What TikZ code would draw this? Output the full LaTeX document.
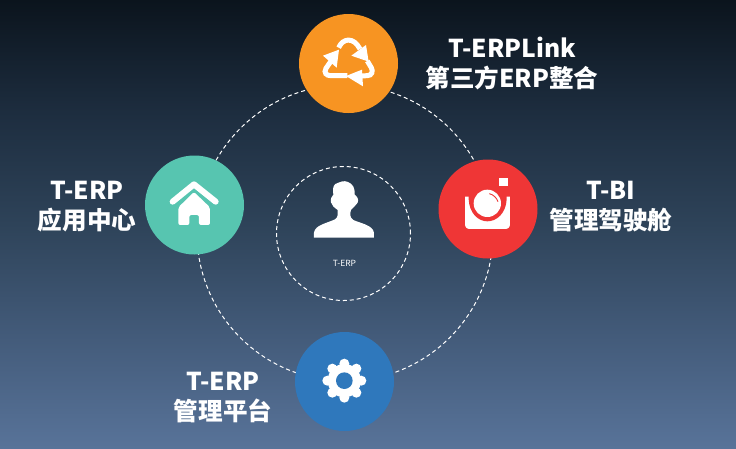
\documentclass[tikz,border=0pt]{standalone}
\usepackage{fontspec}
\setmainfont{Noto Sans CJK SC}
\definecolor{cOrange}{HTML}{F79422}
\definecolor{cRed}{HTML}{EF3636}
\definecolor{cGreen}{HTML}{57C5B0}
\definecolor{cBlue}{HTML}{2F78BC}
\definecolor{bgA}{HTML}{0B141D}
\definecolor{bgB}{HTML}{1D2D3F}
\definecolor{bgC}{HTML}{2E4359}
\definecolor{bgD}{HTML}{435B7A}
\definecolor{bgE}{HTML}{587399}
\pgfdeclareverticalshading{bgshade}{100bp}{color(0bp)=(bgE); color(25bp)=(bgE); color(37.5bp)=(bgD); color(50bp)=(bgC); color(62.5bp)=(bgB); color(75bp)=(bgA); color(100bp)=(bgA)}
\tikzset{
  x=1pt,y=-1pt,
  disc/.style={circle,minimum size=99pt,inner sep=0pt,fill=#1},
  ring/.style={circle,inner sep=0pt,draw=white,line width=1pt,dash pattern=on 4pt off 3pt},
  caption/.style={align=center,text=white,font=\fontsize{24.6}{30}\selectfont\bfseries,inner sep=0pt},
}
\begin{document}
\begin{tikzpicture}
\path[use as bounding box,shading=bgshade] (0,0) rectangle (736,448);
% dashed rings
\node[ring,minimum size=296pt] (outer) at (345,233) {};
\node[ring,minimum size=134pt] (inner) at (343.5,233.5) {};
% discs
\node[disc=cOrange] (link) at (348.5,63.5) {};
\node[disc=cRed] (bi) at (488,209) {};
\node[disc=cGreen] (app) at (194.5,205) {};
\node[disc=cBlue] (mgmt) at (344.5,381.5) {};
% recycle icon
\begin{scope}[shift={(290,5)},x=0.3333pt,y=-0.3333pt]
  \draw[white,line width=5pt,line join=round] (146,128) .. controls (158,100) and (190,94) .. (210,132);
  \fill[white] (228,120) -- (184,152) -- (236,170) -- cycle;
  \fill[white] (99,152) -- (147,134) -- (140,188) -- cycle;
  \draw[white,line width=5pt] (126,164) -- (108,190) .. controls (100,204) and (110,212) .. (122,212) -- (172,212);
  \fill[white] (168,213) -- (216,194) -- (219,244) -- cycle;
  \draw[white,line width=5pt] (212,213) -- (232,212) .. controls (246,212) and (250,198) .. (244,188) -- (232,168);
\end{scope}
% camera icon
\begin{scope}[shift={(430,150)},x=0.3333pt,y=-0.3333pt]
  \fill[white] (207,84) rectangle (234,107);
  \fill[white] (105,140) -- (105,222) .. controls (105,232) and (110,237) .. (120,237) -- (225,237) .. controls (235,237) and (240,232) .. (240,222) -- (240,140) -- cycle;
  \fill[cRed] (116,130) -- (116,148) .. controls (118,190) and (145,214) .. (172,214) .. controls (200,214) and (228,190) .. (230,148) -- (230,130) -- cycle;
  \fill[white] (172,160) circle[radius=41];
  \draw[cRed,line width=0.9pt] (178,131) .. controls (190,134) and (200,143) .. (204,155);
\end{scope}
% person icon
\begin{scope}[shift={(270,160)},x=0.3333pt,y=-0.3333pt]
  \fill[white] (132,233) -- (132,218) .. controls (135,195) and (170,190) .. (195,178)
    .. controls (204,172) and (205,160) .. (203,150) .. controls (192,142) and (186,137) .. (183,127)
    .. controls (181,115) and (186,108) .. (190,104) .. controls (189,90) and (188,78) .. (196,72)
    .. controls (210,66) and (222,60) .. (234,66) .. controls (248,72) and (255,82) .. (254,104)
    .. controls (262,110) and (267,118) .. (263,128) .. controls (258,136) and (250,142) .. (243,150)
    .. controls (240,160) and (238,172) .. (250,180) .. controls (272,190) and (308,195) .. (312,218)
    -- (312,233) -- cycle;
\end{scope}
% home icon
\begin{scope}[shift={(135,150)},x=0.3333pt,y=-0.3333pt]
  \draw[white,line width=6pt,line cap=round,line join=round] (113,155) -- (177,103) -- (242,155);
  \fill[white,rounded corners=2pt] (130,172) -- (177,126) -- (225,172) -- (225,225) -- (192,225) -- (192,195) -- (163,195) -- (163,225) -- (130,225) -- cycle;
\end{scope}
% gear icon
\begin{scope}[shift={(285,325)},x=0.3333pt,y=-0.3333pt]
  \fill[white] (178,167) circle[radius=50];
  \foreach \a in {0,45,...,315}
    \fill[white] (178,167) ++(\a:51) circle[radius=15];
  \fill[cBlue] (178,167) circle[radius=25];
\end{scope}
% captions
\node[caption] (capLink) at (512,63.5) {T-ERPLink\\第三方ERP整合};
\node[caption] (capBI) at (611,206.5) {T-BI\\管理驾驶舱};
\node[caption] (capApp) at (87,206.5) {T-ERP\\应用中心};
\node[caption] (capMgmt) at (223,397.5) {T-ERP\\管理平台};
\node[text=white,font=\fontsize{8.5}{10}\selectfont,inner sep=0pt] (capCenter) at (344.5,263) {T-ERP};
\end{tikzpicture}
\end{document}
